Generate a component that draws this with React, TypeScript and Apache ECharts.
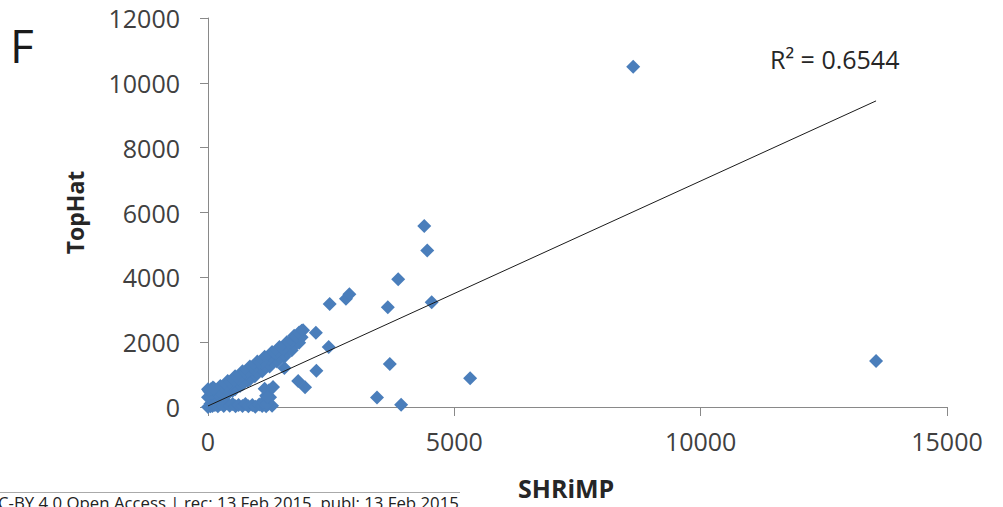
import React, { useEffect, useRef } from "react";
import * as echarts from "echarts";

// SHRiMP (x) vs TopHat (y)
const outlierShrimp: number[] = [
  8630, 13560, 5320, 4390, 4450, 3860, 4540, 3650, 2470, 2800, 2870, 3690, 3430, 3920,
  2450, 2190, 1930, 2200, 1830, 1970, 1550,
];
const outlierTophat: number[] = [
  10500, 1420, 890, 5580, 4830, 3940, 3230, 3080, 3180, 3340, 3480, 1330, 290, 70,
  1850, 2290, 2370, 1120, 800, 610, 1200,
];
const bandShrimp: number[] = [
  1900, 1900, 1850, 1850, 1800, 1750, 1750, 1700, 1700, 1650, 1600, 1600, 1550, 1550,
  1500, 1450, 1450, 1400, 1400, 1350, 1300, 1300, 1250, 1250, 1200, 1150, 1150, 1100,
  1100, 1050, 1000, 1000, 950, 950, 900, 850, 850, 800, 800, 750, 700, 700, 650, 650,
  600, 550, 550, 500, 500, 450, 400, 400, 350, 350, 300, 250, 250, 200, 200, 150, 100,
  100, 50, 50, 0, 0, 0, 20, 60, 120,
];
const bandTophat: number[] = [
  2350, 2150, 2300, 1980, 2100, 2200, 1900, 2050, 1750, 1950, 2000, 1700, 1850, 1550,
  1750, 1850, 1500, 1700, 1400, 1600, 1700, 1350, 1550, 1250, 1450, 1550, 1200, 1400,
  1100, 1300, 1400, 1050, 1250, 950, 1150, 1250, 850, 1100, 800, 1000, 1100, 700, 950,
  650, 850, 950, 550, 800, 500, 700, 800, 400, 650, 350, 550, 650, 300, 500, 200, 400,
  600, 250, 450, 100, 300, 550, 0, 500, 550, 580,
];
const lowShrimp: number[] = [
  50, 90, 140, 200, 260, 320, 380, 440, 500, 560, 620, 700, 760, 820, 900, 960, 1040,
  1100, 1180, 1230, 1300, 1120, 1180, 1240, 1150, 1200, 1260, 1320, 1200,
];
const lowTophat: number[] = [
  20, 30, 60, 20, 90, 30, 120, 40, 90, 20, 60, 30, 90, 20, 60, 10, 80,
  30, 20, 100, 40, 150, 350, 520, 560, 100, 300, 620, 310,
];

// Linear trendline (y = slope * x + intercept)
const trendSlope = 0.694;
const trendIntercept = 32;
const r2Label = "R² = 0.6544";

const xTicks = { min: 0, max: 15000, interval: 5000 };
const yTicks = { min: 0, max: 12000, interval: 2000 };

export default function App() {
  const ref = useRef<HTMLDivElement>(null);
  useEffect(() => {
    if (!ref.current) return;
    const chart = echarts.init(ref.current, undefined, { renderer: "svg" });
    const shrimp = [...outlierShrimp, ...bandShrimp, ...lowShrimp];
    const tophat = [...outlierTophat, ...bandTophat, ...lowTophat];
    const points = shrimp.map((x, i) => [x, tophat[i]]);
    const xMin = Math.min(...shrimp);
    const xMax = Math.max(...shrimp);
    const trend = [
      [xMin, trendSlope * xMin + trendIntercept],
      [xMax, trendSlope * xMax + trendIntercept],
    ];
    const axisLine = { show: true, lineStyle: { color: "#898989", width: 1 } };
    const fmt = (v: number) => String(v);
    chart.setOption({
      animation: false,
      backgroundColor: "#ffffff",
      grid: { left: 208, right: 56, top: 18, bottom: 100, containLabel: false, outerBoundsMode: "none" },
      xAxis: {
        type: "value",
        ...xTicks,
        axisLine,
        axisTick: { show: true, length: 9, lineStyle: { color: "#898989" } },
        axisLabel: { fontFamily: "Open Sans", fontSize: 25, color: "#404040", margin: 21, formatter: fmt },
        splitLine: { show: false },
      },
      yAxis: {
        type: "value",
        ...yTicks,
        name: "TopHat",
        nameLocation: "middle",
        nameGap: 122,
        nameTextStyle: { fontFamily: "Open Sans", fontWeight: "bold", fontSize: 23, color: "#262626" },
        axisLine,
        axisTick: { show: true, length: 8, lineStyle: { color: "#898989" } },
        axisLabel: { fontFamily: "Open Sans", fontSize: 25, color: "#404040", margin: 28, formatter: fmt },
        splitLine: { show: false },
      },
      series: [
        {
          type: "scatter",
          data: points,
          symbol: "diamond",
          symbolSize: 14,
          itemStyle: { color: "#4a7ebb", opacity: 1 },
          z: 2,
        },
        {
          type: "line",
          data: trend,
          symbol: "none",
          lineStyle: { color: "#1a1a1a", width: 1 },
          z: 3,
        },
      ],
      graphic: [
        {
          type: "text",
          left: 10,
          top: 22,
          style: { text: "F", fontFamily: "Open Sans", fontSize: 46, fill: "#1a1a1a" },
        },
        {
          type: "text",
          left: 770,
          top: 46,
          style: { text: r2Label, fontFamily: "Open Sans", fontSize: 25, fill: "#262626" },
        },
        {
          type: "text",
          left: 518,
          top: 475,
          style: { text: "SHRiMP", fontFamily: "Open Sans", fontWeight: "bold", fontSize: 25, fill: "#262626" },
        },
        {
          type: "line",
          shape: { x1: 0, y1: 492.5, x2: 460, y2: 492.5 },
          style: { stroke: "#aaaaaa", lineWidth: 1 },
        },
        {
          type: "text",
          x: -2,
          y: 494,
          style: {
            text: "C-BY 4.0 Open Access | rec: 13 Feb 2015, publ: 13 Feb 2015",
            fontFamily: "Open Sans",
            fontSize: 16.8,
            fill: "#222222",
          },
        },
      ],
    });
    return () => chart.dispose();
  }, []);
  return <div ref={ref} style={{ width: 1003, height: 507, position: "absolute", left: 0, top: 0 }} />;
}
